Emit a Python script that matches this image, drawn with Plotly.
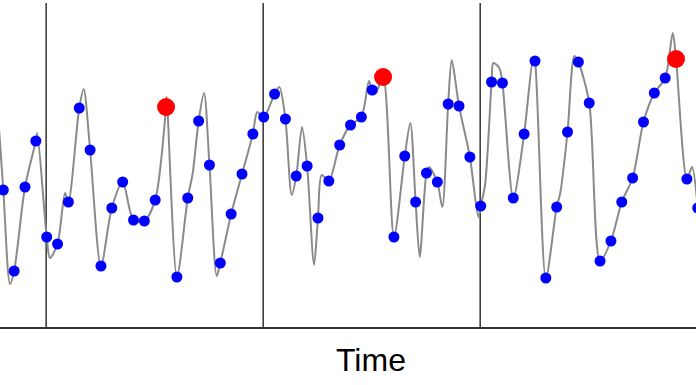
import plotly.graph_objects as go

# Sampled signal (sample index -> value)
sample_values = [13.7, 5.6, 14.0, 18.6, 9.0, 8.3, 12.5, 21.9, 17.7, 6.1,
                 11.9, 14.5, 10.7, 10.6, 12.7, 22.0, 5.0, 12.9, 20.6, 16.2,
                 6.4, 11.3, 15.3, 19.3, 21.0, 23.3, 20.8, 15.1, 16.1, 10.9,
                 14.6, 18.2, 20.2, 21.0, 23.7, 25.0, 9.0, 17.1, 12.5, 15.4,
                 14.5, 22.3, 22.1, 17.0, 12.1, 24.5, 24.4, 12.9, 19.3, 26.6,
                 4.9, 12.0, 19.5, 26.5, 22.4, 6.6, 8.6, 12.5, 14.9, 20.5,
                 23.4, 24.9, 26.8, 14.8, 11.9]
sample_times = list(range(len(sample_values)))

# Highlighted samples (window maxima)
highlight_idx = [15, 35, 62]

# Extra points of the underlying continuous signal (between samples)
curve_extra_t = [-0.5, 0.62, 3.13, 4.30, 5.69, 7.41, 15.06, 17.46, 18.5, 19.67,
                 23.41, 25.44, 26.58, 27.53, 28.64, 29.35, 33.7, 34.3, 37.51, 38.38,
                 39.24, 40.46, 41.33, 43.78, 44.4, 45.16, 45.71, 48.85, 51.33, 52.63,
                 61.7, 63.47]
curve_extra_v = [21.5, 4.3, 19.4, 6.9, 13.4, 23.8, 23.0, 15.4, 23.4, 5.1,
                 21.5, 24.0, 13.2, 20.0, 6.2, 15.2, 24.6, 23.4, 20.4, 7.0,
                 16.0, 12.0, 26.7, 11.0, 14.2, 26.4, 25.9, 27.0, 13.4, 27.1,
                 29.4, 16.0]

# Window boundaries (sample time)
window_bounds = [3.95, 23.95, 43.95]

axis_title = "Time"

curve = sorted(list(zip(sample_times, sample_values)) + list(zip(curve_extra_t, curve_extra_v)))
curve_t = [p[0] for p in curve]
curve_v = [p[1] for p in curve]

fig = go.Figure()
fig.add_trace(go.Scatter(x=curve_t, y=curve_v, mode="lines",
                         line=dict(color="#8a8a8a", width=2, shape="spline", smoothing=0.8),
                         hoverinfo="skip", showlegend=False))
blue_t = [t for t in sample_times if t not in highlight_idx]
blue_v = [sample_values[t] for t in blue_t]
fig.add_trace(go.Scatter(x=blue_t, y=blue_v, mode="markers",
                         marker=dict(color="#0000ff", size=11), showlegend=False))
fig.add_trace(go.Scatter(x=highlight_idx, y=[sample_values[t] for t in highlight_idx],
                         mode="markers", marker=dict(color="#ff0000", size=18),
                         showlegend=False))

for b in window_bounds:
    fig.add_shape(type="line", x0=b, x1=b, y0=0, y1=32.4, xref="x", yref="y",
                  line=dict(color="#333333", width=1.5), layer="below")

fig.add_annotation(text=axis_title, xref="paper", yref="paper", x=371 / 696, y=-33 / 327,
                   xanchor="center", yanchor="middle", showarrow=False,
                   font=dict(family="Liberation Sans, Arial, sans-serif", size=32, color="#000000"))

fig.update_layout(
    width=696, height=385,
    margin=dict(l=0, r=0, t=0, b=58),
    paper_bgcolor="white", plot_bgcolor="white",
    xaxis=dict(range=[-0.304, 63.84], showgrid=False, zeroline=False, showticklabels=False,
               ticks="", showline=True, linecolor="#333333", linewidth=2),
    yaxis=dict(range=[0, 32.7], showgrid=False, zeroline=False, showticklabels=False,
               ticks="", showline=False),
)

fig.write_html("out.html", config={"displayModeBar": False},
               post_script="document.body.style.margin='0';document.body.style.overflow='hidden';")
